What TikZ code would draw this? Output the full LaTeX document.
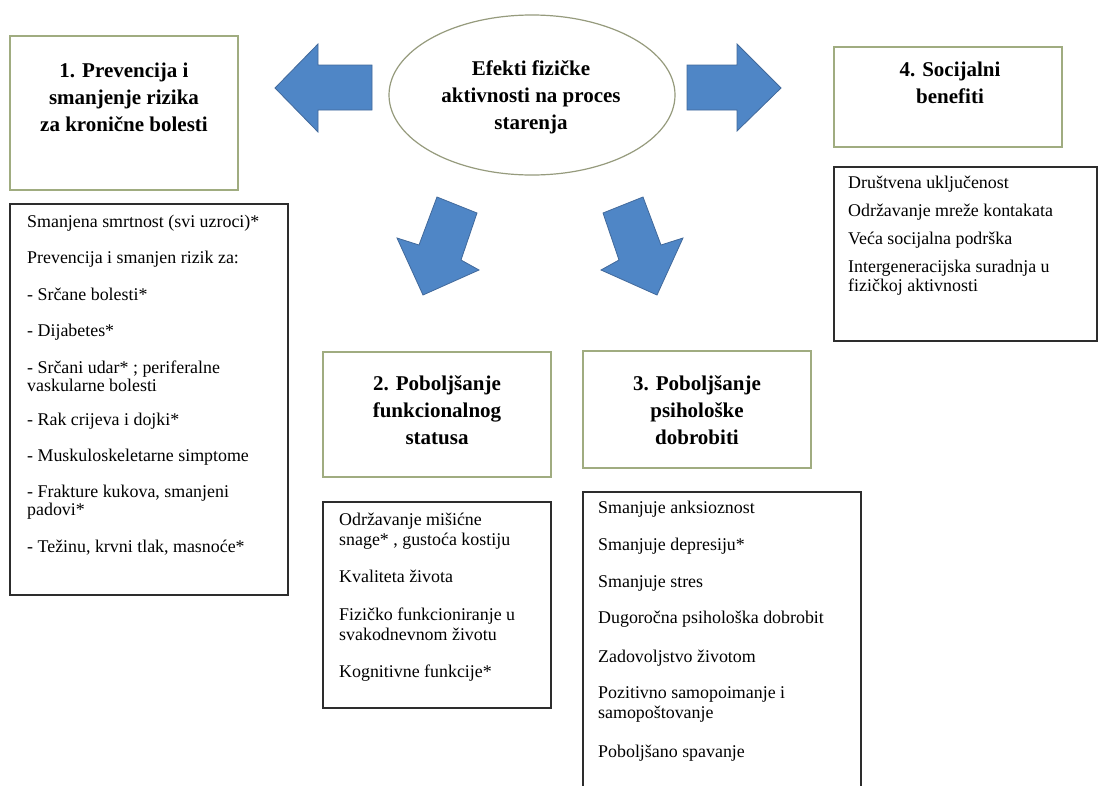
\documentclass[tikz,border=0pt]{standalone}
\usepackage{fontspec}
\setmainfont{Liberation Serif}
\usetikzlibrary{shapes.geometric}
\definecolor{hdrline}{RGB}{160,172,128}
\definecolor{elline}{RGB}{150,155,125}
\definecolor{arrfill}{RGB}{79,134,198}
\definecolor{arrline}{RGB}{65,105,155}
\definecolor{boxline}{RGB}{45,45,45}
\begin{document}
\begin{tikzpicture}[x=1pt,y=-1pt,
  hdrbox/.style={draw=hdrline,line width=1.4pt,inner sep=0pt,outer sep=0pt},
  listbox/.style={draw=boxline,line width=1.4pt,inner sep=0pt,outer sep=0pt},
  hdrtext/.style={align=center,font=\fontsize{21}{27}\selectfont\bfseries,inner sep=0pt},
  item/.style={anchor=base west,inner sep=0pt,font=\fontsize{17.9}{20}\selectfont},
  blockarrow/.style={fill=arrfill,draw=arrline,line width=0.8pt,line join=miter}]
\useasboundingbox[fill=white] (0,0) rectangle (1099,785);

% header boxes
\node[hdrbox,minimum width=228,minimum height=154] (h1) at (124,113) {};
\node[hdrtext] (t1) at (124,97) {1. Prevencija i\\smanjenje rizika\\za kronične bolesti};
\node[hdrbox,minimum width=228,minimum height=100] (h4) at (948,97) {};
\node[hdrtext] (t4) at (950,83) {4. Socijalni\\benefiti};
\node[hdrbox,minimum width=228,minimum height=125] (h2) at (437,414.5) {};
\node[hdrtext] (t2) at (437,410) {2. Poboljšanje\\funkcionalnog\\statusa};
\node[hdrbox,minimum width=228,minimum height=117] (h3) at (697,409.5) {};
\node[hdrtext] (t3) at (697,410) {3. Poboljšanje\\psihološke\\dobrobiti};

% central ellipse
\node[ellipse,draw=elline,line width=1.2pt,minimum width=286,minimum height=160,inner sep=0pt] (core) at (532,95) {};
\node[hdrtext] (tc) at (531,97) {Efekti fizičke\\aktivnosti na proces\\starenja};

% block arrows
\draw[blockarrow] (275,88) -- (318,44) -- (318,65) -- (372,65) -- (372,110) -- (318,110) -- (318,132) -- cycle;
\draw[blockarrow] (687,65) -- (737,65) -- (737,44) -- (781,88) -- (737,131) -- (737,110) -- (687,110) -- cycle;
\draw[blockarrow] (437,197) -- (477,213) -- (461,260) -- (479,270) -- (423,295) -- (397,238) -- (419,245) -- cycle;
\draw[blockarrow] (643,197) -- (603,213) -- (619,260) -- (601,270) -- (657,295) -- (683,238) -- (661,245) -- cycle;

% list boxes
\node[listbox,minimum width=278,minimum height=391] (c1) at (149,399.5) {};
\node[listbox,minimum width=228,minimum height=206] (c2) at (437,605) {};
\node[listbox,minimum width=278,minimum height=308] (c3) at (722,646) {};
\node[listbox,minimum width=263,minimum height=174] (c4) at (965.5,254) {};

\foreach \y/\t [count=\i] in {222/{Smanjena smrtnost (svi uzroci)*},
  258/{Prevencija i smanjen rizik za:},
  295/{- Srčane bolesti*},
  331/{- Dijabetes*},
  368/{- Srčani udar* ; periferalne},
  386/{vaskularne bolesti},
  420/{- Rak crijeva i dojki*},
  456/{- Muskuloskeletarne simptome},
  492/{- Frakture kukova, smanjeni},
  510/{padovi*},
  547/{- Težinu, krvni tlak, masnoće*}}
  \node[item] (c1l\i) at (27,\y+5) {\t};

\foreach \y/\t [count=\i] in {520/{Održavanje mišićne},
  540/{snage* , gustoća kostiju},
  577/{Kvaliteta života},
  615/{Fizičko funkcioniranje u},
  635/{svakodnevnom životu},
  672/{Kognitivne funkcije*}}
  \node[item] (c2l\i) at (339,\y+5) {\t};

\foreach \y/\t [count=\i] in {508/{Smanjuje anksioznost},
  545/{Smanjuje depresiju*},
  582/{Smanjuje stres},
  618/{Dugoročna psihološka dobrobit},
  657/{Zadovoljstvo životom},
  693/{Pozitivno samopoimanje i},
  713/{samopoštovanje},
  752/{Poboljšano spavanje}}
  \node[item] (c3l\i) at (598,\y+5) {\t};

\foreach \y/\t [count=\i] in {183/{Društvena uključenost},
  211/{Održavanje mreže kontakata},
  239/{Veća socijalna podrška},
  267/{Intergeneracijska suradnja u},
  286/{fizičkoj aktivnosti}}
  \node[item] (c4l\i) at (848,\y+5) {\t};
\end{tikzpicture}
\end{document}
